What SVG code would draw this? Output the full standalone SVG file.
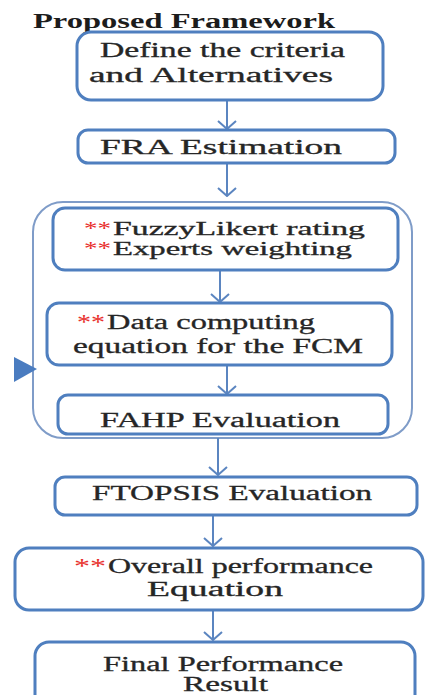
<svg xmlns="http://www.w3.org/2000/svg" width="425" height="695" viewBox="0 0 425 695">
  <style>
    .box { fill: #ffffff; stroke: #4f7fbf; stroke-width: 3; }
    .group { fill: none; stroke: #7f9cc8; stroke-width: 2; }
    .link { fill: none; stroke: #5b85c0; stroke-width: 2; }
    text { font-family: "Liberation Serif", "Times New Roman", "DejaVu Serif", serif; font-size: 20px; }
    .t { fill: #262626; stroke: #262626; stroke-width: 0.3; }
    .star { fill: #e8302c; }
    .small { font-size: 18px; }
    .title { font-weight: bold; fill: #1c1c1c; }
  </style>
  <defs>
    <!-- open V head drawn pointing down; connectors all run downward -->
    <marker id="vhead" viewBox="0 0 20 10" refX="10" refY="9" markerWidth="20" markerHeight="10" markerUnits="userSpaceOnUse">
      <path d="M1,1 L10,9 L19,1" fill="none" stroke="#5b85c0" stroke-width="2"/>
    </marker>
  </defs>

  <text class="title" x="33" y="28" textLength="302" lengthAdjust="spacingAndGlyphs">Proposed Framework</text>

  <!-- enclosing panel around the fuzzy steps -->
  <g id="panel">
    <rect class="group" x="33" y="202" width="379" height="236" rx="30" ry="30"/>
    <path d="M14,357 L37,369 L14,382 Z" fill="#4a7cc0"/>
  </g>

  <g id="connectors">
    <path class="link" d="M227,100 V129" marker-end="url(#vhead)"/>
    <path class="link" d="M227,163 V196" marker-end="url(#vhead)"/>
    <path class="link" d="M220,270 V302" marker-end="url(#vhead)"/>
    <path class="link" d="M227,365 V394" marker-end="url(#vhead)"/>
    <path class="link" d="M218,438 V475" marker-end="url(#vhead)"/>
    <path class="link" d="M213,515 V546" marker-end="url(#vhead)"/>
    <path class="link" d="M213,610 V640" marker-end="url(#vhead)"/>
  </g>

  <g id="define">
    <rect class="box" x="77" y="32" width="306" height="68" rx="14"/>
    <text class="t" x="100" y="57" textLength="245" lengthAdjust="spacingAndGlyphs">Define the criteria</text>
    <text class="t" x="89" y="82" textLength="244" lengthAdjust="spacingAndGlyphs">and Alternatives</text>
  </g>

  <g id="fra">
    <rect class="box" x="78" y="130" width="317" height="33" rx="10"/>
    <text class="t" x="100" y="154" textLength="242" lengthAdjust="spacingAndGlyphs">FRA Estimation</text>
  </g>

  <g id="likert">
    <rect class="box" x="53" y="208" width="345" height="62" rx="12"/>
    <text class="star small" x="84" y="235" textLength="27" lengthAdjust="spacingAndGlyphs">**</text>
    <text class="t small" x="113" y="235" textLength="252" lengthAdjust="spacingAndGlyphs">FuzzyLikert rating</text>
    <text class="star small" x="84" y="255" textLength="27" lengthAdjust="spacingAndGlyphs">**</text>
    <text class="t small" x="113" y="255" textLength="239" lengthAdjust="spacingAndGlyphs">Experts weighting</text>
  </g>

  <g id="computing">
    <rect class="box" x="47" y="303" width="345" height="62" rx="12"/>
    <text class="star" x="77" y="329" textLength="28" lengthAdjust="spacingAndGlyphs">**</text>
    <text class="t" x="107" y="329" textLength="208" lengthAdjust="spacingAndGlyphs">Data computing</text>
    <text class="t" x="73" y="353" textLength="290" lengthAdjust="spacingAndGlyphs">equation for the FCM</text>
  </g>

  <g id="fahp">
    <rect class="box" x="58" y="395" width="330" height="39" rx="10"/>
    <text class="t" x="100" y="427" textLength="240" lengthAdjust="spacingAndGlyphs">FAHP Evaluation</text>
  </g>

  <g id="ftopsis">
    <rect class="box" x="55" y="477" width="362" height="38" rx="10"/>
    <text class="t" x="92" y="500" textLength="280" lengthAdjust="spacingAndGlyphs">FTOPSIS Evaluation</text>
  </g>

  <g id="overall">
    <rect class="box" x="15" y="548" width="408" height="62" rx="14"/>
    <text class="star" x="74" y="573" textLength="32" lengthAdjust="spacingAndGlyphs">**</text>
    <text class="t" x="108" y="573" textLength="265" lengthAdjust="spacingAndGlyphs">Overall performance</text>
    <text class="t" x="147" y="596" textLength="136" lengthAdjust="spacingAndGlyphs">Equation</text>
  </g>

  <g id="final">
    <rect class="box" x="35" y="642" width="380" height="70" rx="14"/>
    <text class="t" x="103" y="671" textLength="240" lengthAdjust="spacingAndGlyphs">Final Performance</text>
    <text class="t" x="183" y="691" textLength="85" lengthAdjust="spacingAndGlyphs">Result</text>
  </g>
</svg>
